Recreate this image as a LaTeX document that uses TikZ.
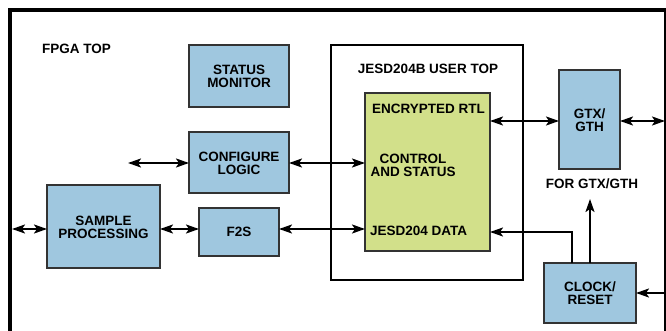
\documentclass[tikz,border=0pt]{standalone}
\usepackage{fontspec}
\setmainfont{Liberation Sans}
\usetikzlibrary{arrows.meta}
\definecolor{blockblue}{HTML}{9FC7DF}
\definecolor{rtlgreen}{HTML}{D2E08A}
\begin{document}
\begin{tikzpicture}[x=1pt,y=-1pt,
  txt/.style={font=\fontsize{13.5}{13}\selectfont\bfseries, align=center, inner sep=0pt},
  blk/.style={draw=black!80, line width=1.4pt, fill=blockblue},
  tip/.tip={Stealth[length=13pt,width=9pt,inset=3pt]},
  lnk/.style={line width=2pt, tip-tip},
  one/.style={line width=2pt, -tip}]
\useasboundingbox (0,0) rectangle (666,331);
% outer FPGA frame
\draw[line width=4pt] (10,345) -- (10,10) -- (666,10) -- (666,345);
\node[txt, anchor=west] (fpga) at (42,49) {FPGA TOP};
% user top wrapper and encrypted core
\draw[line width=1.4pt] (331,45) rectangle (523,280);
\node[txt] (usertitle) at (428,69) {JESD204B USER TOP};
\draw[draw=black!80, line width=1.4pt, fill=rtlgreen] (365,93) rectangle (490,251);
\node[txt, anchor=west] (rtl) at (372,109) {ENCRYPTED RTL};
\node[txt] (ctrl) at (413,165) {CONTROL\\AND STATUS};
\node[txt, anchor=west] (data) at (370,231) {JESD204 DATA};
\coordinate (gL1) at (365,163);
\coordinate (gL2) at (365,229);
\coordinate (gR1) at (490,121);
\coordinate (gR2) at (490,232);
% blocks
\draw[blk] (189,45) rectangle (289,107);
\node[txt] (status) at (239,76) {STATUS\\MONITOR};
\draw[blk] (189,132) rectangle (289,193);
\node[txt] (config) at (239,163) {CONFIGURE\\LOGIC};
\draw[blk] (47,185) rectangle (160,268);
\node[txt] (sample) at (103.5,227) {SAMPLE\\PROCESSING};
\draw[blk] (199,208) rectangle (279,256);
\node[txt] (f2s) at (239,232) {F2S};
\draw[blk] (559,70) rectangle (620,169);
\node[txt] (gtx) at (589.5,120) {GTX/\\GTH};
\draw[blk] (544,263) rectangle (636,323);
\node[txt] (clk) at (590,293) {CLOCK/\\RESET};
\node[txt] (forgtx) at (592,184) {FOR GTX/GTH};
% connection points
\coordinate (cfgL) at (189,163);
\coordinate (cfgR) at (289,163);
\coordinate (cfgOut) at (128,163);
\coordinate (smpL) at (47,229);
\coordinate (smpR) at (160,229);
\coordinate (edgeL) at (12,229);
\coordinate (f2sL) at (199,229);
\coordinate (f2sR) at (279,229);
\coordinate (gtxL) at (559,121);
\coordinate (gtxR) at (620,121);
\coordinate (edgeR1) at (665,121);
\coordinate (edgeR2) at (665,293);
\coordinate (clkR) at (636,293);
\coordinate (clkT1) at (572,263);
\coordinate (clkT2) at (590,263);
\coordinate (upTip) at (590,199);
% connectors
\draw[lnk] (cfgOut) -- (cfgL);
\draw[lnk] (cfgR) -- (gL1);
\draw[lnk] (edgeL) -- (smpL);
\draw[lnk] (smpR) -- (f2sL);
\draw[lnk] (f2sR) -- (gL2);
\draw[lnk] (gR1) -- (gtxL);
\draw[lnk] (gtxR) -- (edgeR1);
\draw[one] (clkT1) |- (gR2);
\draw[one] (clkT2) -- (upTip);
\draw[one] (edgeR2) -- (clkR);
\end{tikzpicture}
\end{document}
